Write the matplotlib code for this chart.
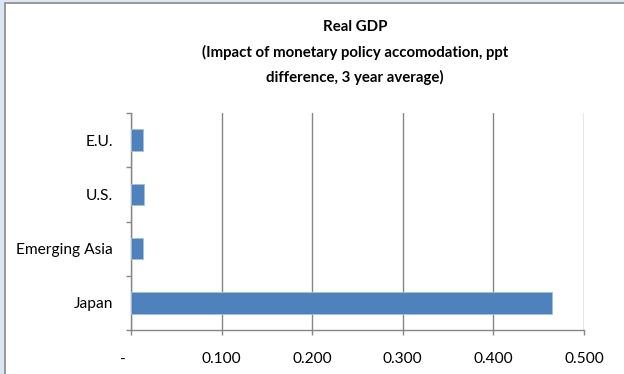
import matplotlib
matplotlib.use("Agg")
import matplotlib.pyplot as plt
from matplotlib.patches import Rectangle
from matplotlib.ticker import FuncFormatter

categories = ["Japan", "Emerging Asia", "U.S.", "E.U."]
values = [0.465, 0.0136, 0.0147, 0.0136]
xticks = [0.0, 0.1, 0.2, 0.3, 0.4, 0.5]

plt.rcParams["font.family"] = ["Lato", "DejaVu Sans"]

W, H = 624, 374
fig = plt.figure(figsize=(W / 100, H / 100), dpi=100)
fig.patch.set_facecolor("white")

# window-like frame on the left and top
fig.add_artist(Rectangle((0, 0), 4 / W, 1, transform=fig.transFigure,
                         facecolor="#dce6f2", edgecolor="none"))
fig.add_artist(Rectangle((0, 1 - 2 / H), 1, 2 / H, transform=fig.transFigure,
                         facecolor="#dce6f2", edgecolor="none"))
fig.add_artist(Rectangle((4 / W, 0), 1.5 / W, 1 - 2 / H, transform=fig.transFigure,
                         facecolor="#9a9a9a", edgecolor="none"))
fig.add_artist(Rectangle((4 / W, 1 - 3.5 / H), 1 - 4 / W, 1.5 / H, transform=fig.transFigure,
                         facecolor="#9a9a9a", edgecolor="none"))

left, right = 131, 584
top, bottom = 113, 330
ax = fig.add_axes([left / W, 1 - bottom / H, (right - left) / W, (bottom - top) / H])

y = list(range(len(categories)))
ax.barh(y, values, height=0.4, color="#4f81bd", edgecolor="#a7c0de", linewidth=0.6, zorder=3)

ax.set_xlim(0, 0.5)
ax.set_ylim(-0.5, len(categories) - 0.5)
ax.set_xticks(xticks)
ax.xaxis.set_major_formatter(FuncFormatter(lambda v, p: "-    " if v == 0 else f"{v:.3f}"))
ax.set_yticks(y)
ax.set_yticklabels(categories)
ax.set_yticks([i - 0.5 for i in range(len(categories) + 1)], minor=True)
ax.tick_params(axis="y", which="major", length=0, pad=13, labelsize=11.2, colors="black")
ax.tick_params(axis="y", which="minor", length=3.6, width=1, color="#868686", direction="out")
ax.tick_params(axis="x", length=3.6, width=1, color="#868686", direction="out", pad=12,
               labelsize=11.2, labelcolor="black")

ax.grid(axis="x", color="#868686", linewidth=1, zorder=0)
for s in ["top", "right"]:
    ax.spines[s].set_visible(False)
for s in ["left", "bottom"]:
    ax.spines[s].set_color("#868686")
    ax.spines[s].set_linewidth(1)

title_kw = dict(ha="center", va="center", fontsize=10.8, fontweight="bold")
fig.text(355 / W, 1 - 27 / H, "Real GDP", **title_kw)
fig.text(355 / W, 1 - 52 / H, "(Impact of monetary policy accomodation, ppt", **title_kw)
fig.text(355 / W, 1 - 77 / H, "difference, 3 year average)", **title_kw)

fig.savefig("out.png", dpi=100)
